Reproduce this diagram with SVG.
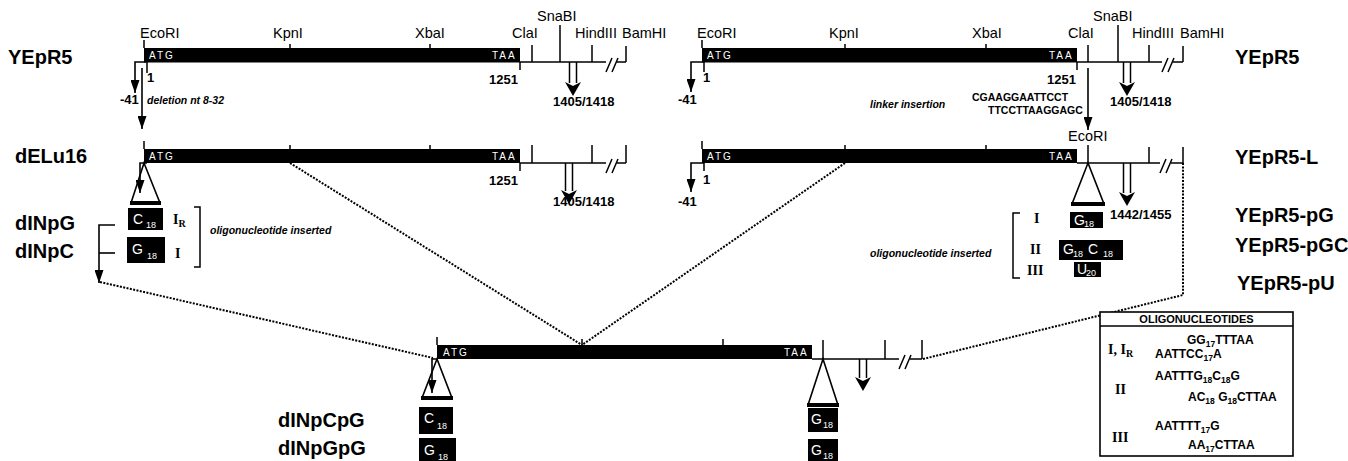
<svg xmlns="http://www.w3.org/2000/svg" width="1348" height="461" viewBox="0 0 1348 461">
<defs>
<style>
.bar{fill:#000}
.ln{stroke:#000;stroke-width:1.6;fill:none}
.tk{stroke:#000;stroke-width:1.5;fill:none}
.dot{stroke:#000;stroke-width:2;stroke-dasharray:2 1.4;fill:none}
.tri{fill:#fff;stroke:#000;stroke-width:1.6}
.base{stroke:#000;stroke-width:4}
.box{fill:#000}
.site{font-family:"Liberation Sans",Arial,sans-serif;font-size:14.5px;fill:#000}
.name{font-family:"Liberation Sans",Arial,sans-serif;font-size:20px;font-weight:bold;fill:#000}
.num{font-family:"Liberation Sans",Arial,sans-serif;font-size:13px;font-weight:bold;fill:#000}
.it{font-family:"Liberation Sans",Arial,sans-serif;font-size:10.5px;font-style:italic;font-weight:bold;fill:#000}
.seq{font-family:"Liberation Sans",Arial,sans-serif;font-size:10.5px;font-weight:bold;fill:#000}
.sq{font-family:"Liberation Sans",Arial,sans-serif;font-size:12px;font-weight:bold;fill:#000}
.rom{font-family:"Liberation Serif","Times New Roman",serif;font-size:14px;font-weight:bold;fill:#000}
.wt{font-family:"Liberation Sans",Arial,sans-serif;font-size:10px;fill:#fff;letter-spacing:2px}
.bx{font-family:"Liberation Sans",Arial,sans-serif;font-size:14px;fill:#fff}
.bs{font-family:"Liberation Sans",Arial,sans-serif;font-size:9px;fill:#fff}
.hd{font-family:"Liberation Sans",Arial,sans-serif;font-size:11px;font-weight:bold;fill:#000}
</style>
<marker id="ah" viewBox="0 0 13 9" refX="13" refY="4.5" markerWidth="13" markerHeight="9" markerUnits="userSpaceOnUse" orient="auto">
<path d="M0,0 L13,4.5 L0,9 z" fill="#000"/>
</marker>
</defs>
<rect width="1348" height="461" fill="#fff"/>

<g id="connectors">
<path class="dot" d="M290,163 L582,345"/>
<path class="dot" d="M845,163 L582,345"/>
<path class="dot" d="M1183,163 V295 L923,359"/>
<path class="dot" d="M100,282 L433,358"/>
</g>

<g id="yepr5-left">
<text class="name" x="8" y="64">YEpR5</text>
<rect class="bar" x="144" y="48" width="376" height="14.5"/>
<text class="wt" x="149" y="59">ATG</text>
<text class="wt" x="492" y="59">TAA</text>
<path class="ln" d="M520,62 H606 M617,62 H626"/>
<path class="tk" d="M606,72 L612,58 M612,72 L618,58"/>
<path class="tk" d="M144,40 V48 M290,44 V48 M430,44 V48 M532,45 V62 M560,25 V62 M592,45 V62 M626,46 V62 M520,62 V70 M147,62 V73"/>
<text class="site" x="140" y="38">EcoRI</text>
<text class="site" x="273" y="38">KpnI</text>
<text class="site" x="415" y="38">XbaI</text>
<text class="site" x="512" y="38">ClaI</text>
<text class="site" x="537" y="21">SnaBI</text>
<text class="site" x="575" y="38">HindIII</text>
<text class="site" x="622" y="38">BamHI</text>
<text class="num" x="147" y="82">1</text>
<text class="num" x="489" y="84">1251</text>
<path class="ln" d="M146,62 H135 V93" marker-end="url(#ah)"/>
<text class="num" x="120" y="104">-41</text>
<path class="ln" d="M142,68 V129" marker-end="url(#ah)"/>
<text class="it" x="147" y="104">deletion nt 8-32</text>
<path class="tk" d="M569.5,62 V83 M576.5,62 V83"/>
<path d="M565,82 L573,86 L581,82 L573,96 Z" fill="#000"/>
<text class="num" x="553" y="106" font-size="12.5">1405/1418</text>
</g>

<g id="yepr5-right">
<text class="name" x="1235" y="64">YEpR5</text>
<rect class="bar" x="702" y="48" width="375" height="14.5"/>
<text class="wt" x="707" y="59">ATG</text>
<text class="wt" x="1049" y="59">TAA</text>
<path class="ln" d="M1077,62 H1162 M1173,62 H1183"/>
<path class="tk" d="M1162,72 L1168,58 M1168,72 L1174,58"/>
<path class="tk" d="M702,40 V48 M845,44 V48 M986,44 V48 M1088,45 V62 M1118,25 V62 M1149,45 V62 M1183,46 V62 M1077,62 V70 M704,62 V72"/>
<text class="site" x="697" y="38">EcoRI</text>
<text class="site" x="829" y="38">KpnI</text>
<text class="site" x="972" y="38">XbaI</text>
<text class="site" x="1068" y="38">ClaI</text>
<text class="site" x="1093" y="21">SnaBI</text>
<text class="site" x="1132" y="38">HindIII</text>
<text class="site" x="1180" y="38">BamHI</text>
<text class="num" x="703" y="82">1</text>
<text class="num" x="1047" y="84">1251</text>
<path class="ln" d="M704,62 H691 V92" marker-end="url(#ah)"/>
<text class="num" x="678" y="104">-41</text>
<path class="tk" d="M1123.5,62 V83 M1130.5,62 V83"/>
<path d="M1119,82 L1127,86 L1135,82 L1127,96 Z" fill="#000"/>
<text class="num" x="1110" y="106" font-size="12.5">1405/1418</text>
<text class="it" x="870" y="108">linker insertion</text>
<text class="seq" x="972" y="101">CGAAGGAATTCCT</text>
<text class="seq" x="988" y="114">TTCCTTAAGGAGC</text>
<path class="ln" d="M1088,68 V130" marker-end="url(#ah)"/>
</g>

<g id="delu16">
<text class="name" x="15" y="163">dELu16</text>
<rect class="bar" x="144" y="149" width="376" height="14"/>
<text class="wt" x="149" y="160">ATG</text>
<text class="wt" x="492" y="160">TAA</text>
<path class="ln" d="M520,163 H606 M617,163 H626"/>
<path class="tk" d="M606,173 L612,159 M612,173 L618,159"/>
<path class="tk" d="M144,141 V149 M290,145 V149 M430,145 V149 M532,145 V163 M592,145 V163 M626,145 V163 M520,163 V171"/>
<text class="num" x="489" y="185">1251</text>
<path class="tk" d="M565.5,163 V191 M572.5,163 V191"/>
<path d="M561,190 L569,194 L577,190 L569,204 Z" fill="#000"/>
<text class="num" x="553" y="206" font-size="12.5">1405/1418</text>
<polygon class="tri" points="144,163 131,203 160,203"/>
<path class="base" d="M130,203 H161"/>
<path class="ln" d="M147,163 H140 V193" marker-end="url(#ah)"/>
</g>

<g id="dinpg">
<text class="name" x="15" y="230">dINpG</text>
<rect class="box" x="128" y="208" width="35" height="22"/>
<text class="bx" x="133" y="224">C</text><text class="bs" x="146" y="228">18</text>
<text class="rom" x="173" y="224">I<tspan font-size="10" dy="3">R</tspan></text>
</g>
<g id="dinpc">
<text class="name" x="15" y="258">dINpC</text>
<rect class="box" x="127" y="237" width="38" height="26"/>
<text class="bx" x="132" y="254">G</text><text class="bs" x="147" y="259">18</text>
<text class="rom" x="175" y="258">I</text>
</g>
<g id="left-brackets">
<path class="tk" d="M194,207 H200 V267 H194"/>
<text class="it" x="210" y="234">oligonucleotide inserted</text>
<path class="ln" d="M115,225 H99 V283" marker-end="url(#ah)"/>
<path class="ln" d="M115,253 H99"/>
</g>

<g id="yepr5-l">
<text class="name" x="1235" y="164">YEpR5-L</text>
<rect class="bar" x="702" y="149" width="375" height="14"/>
<text class="wt" x="707" y="160">ATG</text>
<text class="wt" x="1049" y="160">TAA</text>
<path class="ln" d="M1077,163 H1160 M1171,163 H1183"/>
<path class="tk" d="M1160,173 L1166,159 M1166,173 L1172,159"/>
<path class="tk" d="M702,141 V149 M845,145 V149 M986,145 V149 M1088,145 V163 M1149,147 V163 M1183,147 V163 M704,163 V171"/>
<text class="site" x="1068" y="141">EcoRI</text>
<text class="num" x="703" y="184">1</text>
<path class="ln" d="M704,163 H691 V192" marker-end="url(#ah)"/>
<text class="num" x="678" y="206">-41</text>
<path class="tk" d="M1123.5,163 V193 M1130.5,163 V193"/>
<path d="M1119,192 L1127,196 L1135,192 L1127,206 Z" fill="#000"/>
<text class="num" x="1110" y="219" font-size="12.5">1442/1455</text>
<polygon class="tri" points="1088,163 1072,204 1104,204"/>
<path class="base" d="M1071,204 H1105"/>
</g>

<g id="yepr5-pg">
<text class="name" x="1235" y="222">YEpR5-pG</text>
<text class="rom" x="1034" y="223">I</text>
<rect class="box" x="1070" y="212" width="33" height="16"/>
<text class="bx" x="1074" y="225" font-size="12">G</text><text class="bs" x="1084" y="227">18</text>
</g>
<g id="yepr5-pgc">
<text class="name" x="1235" y="252">YEpR5-pGC</text>
<text class="rom" x="1030" y="254">II</text>
<rect class="box" x="1059" y="240" width="64" height="20"/>
<text class="bx" x="1063" y="254" font-size="12">G</text><text class="bs" x="1073" y="257">18</text>
<text class="bx" x="1088" y="254" font-size="12">C</text><text class="bs" x="1103" y="257">18</text>
</g>
<g id="yepr5-pu">
<text class="name" x="1237" y="290">YEpR5-pU</text>
<text class="rom" x="1027" y="275">III</text>
<rect class="box" x="1074" y="262" width="27" height="15"/>
<text class="bx" x="1077" y="274" font-size="11">U</text><text class="bs" x="1086" y="276" font-size="8">20</text>
</g>
<g id="right-brackets">
<path class="tk" d="M1020,213 H1013 V278 H1020"/>
<text class="it" x="870" y="257">oligonucleotide inserted</text>
</g>

<g id="bottom-construct">
<rect class="bar" x="437" y="345" width="375" height="14"/>
<text class="wt" x="443" y="356">ATG</text>
<text class="wt" x="784" y="356">TAA</text>
<path class="ln" d="M812,359 H899 M910,359 H922"/>
<path class="tk" d="M899,369 L905,355 M905,369 L911,355"/>
<path class="tk" d="M437,337 V345 M582,339 V345 M723,339 V345 M823,340 V359 M885,340 V359 M922,340 V359"/>
<path class="tk" d="M859.5,359 V378 M866.5,359 V378"/>
<path d="M855,377 L863,381 L871,377 L863,391 Z" fill="#000"/>
<polygon class="tri" points="437,359 422,398 452,398"/>
<path class="base" d="M421,398 H453"/>
<path class="ln" d="M437,359 H432 V393" marker-end="url(#ah)"/>
<polygon class="tri" points="823,359 808,405 838,405"/>
<path class="base" d="M807,405 H839"/>
<rect class="box" x="808" y="408" width="30" height="24"/>
<text class="bx" x="811" y="424">G</text><text class="bs" x="823" y="428">18</text>
<rect class="box" x="808" y="439" width="30" height="28"/>
<text class="bx" x="811" y="455">G</text><text class="bs" x="823" y="459">18</text>
</g>
<g id="dinpcpg">
<text class="name" x="278" y="427">dINpCpG</text>
<rect class="box" x="419" y="407" width="34" height="27"/>
<text class="bx" x="424" y="423">C</text><text class="bs" x="437" y="429">18</text>
</g>
<g id="dinpgpg">
<text class="name" x="278" y="455">dINpGpG</text>
<rect class="box" x="419" y="438" width="37" height="30"/>
<text class="bx" x="424" y="455">G</text><text class="bs" x="438" y="460">18</text>
</g>

<g id="oligo-table">
<rect x="1100" y="312" width="193" height="144" fill="#fff" stroke="#000" stroke-width="1.6"/>
<path class="tk" d="M1100,326 H1293"/>
<text class="hd" x="1196.5" y="323" text-anchor="middle">OLIGONUCLEOTIDES</text>
<text class="rom" x="1108" y="354">I, I<tspan font-size="10" dy="3">R</tspan></text>
<text class="sq" x="1187" y="344">GG<tspan font-size="8.5" dy="3">17</tspan><tspan dy="-3">TTTAA</tspan></text>
<text class="sq" x="1155" y="358">AATTCC<tspan font-size="8.5" dy="3">17</tspan><tspan dy="-3">A</tspan></text>
<text class="rom" x="1115" y="394">II</text>
<text class="sq" x="1155" y="380">AATTTG<tspan font-size="8.5" dy="3">18</tspan><tspan dy="-3">C</tspan><tspan font-size="8.5" dy="3">18</tspan><tspan dy="-3">G</tspan></text>
<text class="sq" x="1188" y="401">AC<tspan font-size="8.5" dy="3">18</tspan><tspan dy="-3"> G</tspan><tspan font-size="8.5" dy="3">18</tspan><tspan dy="-3">CTTAA</tspan></text>
<text class="rom" x="1112" y="442">III</text>
<text class="sq" x="1155" y="430">AATTTT<tspan font-size="8.5" dy="3">17</tspan><tspan dy="-3">G</tspan></text>
<text class="sq" x="1188" y="449">AA<tspan font-size="8.5" dy="3">17</tspan><tspan dy="-3">CTTAA</tspan></text>
</g>
</svg>
